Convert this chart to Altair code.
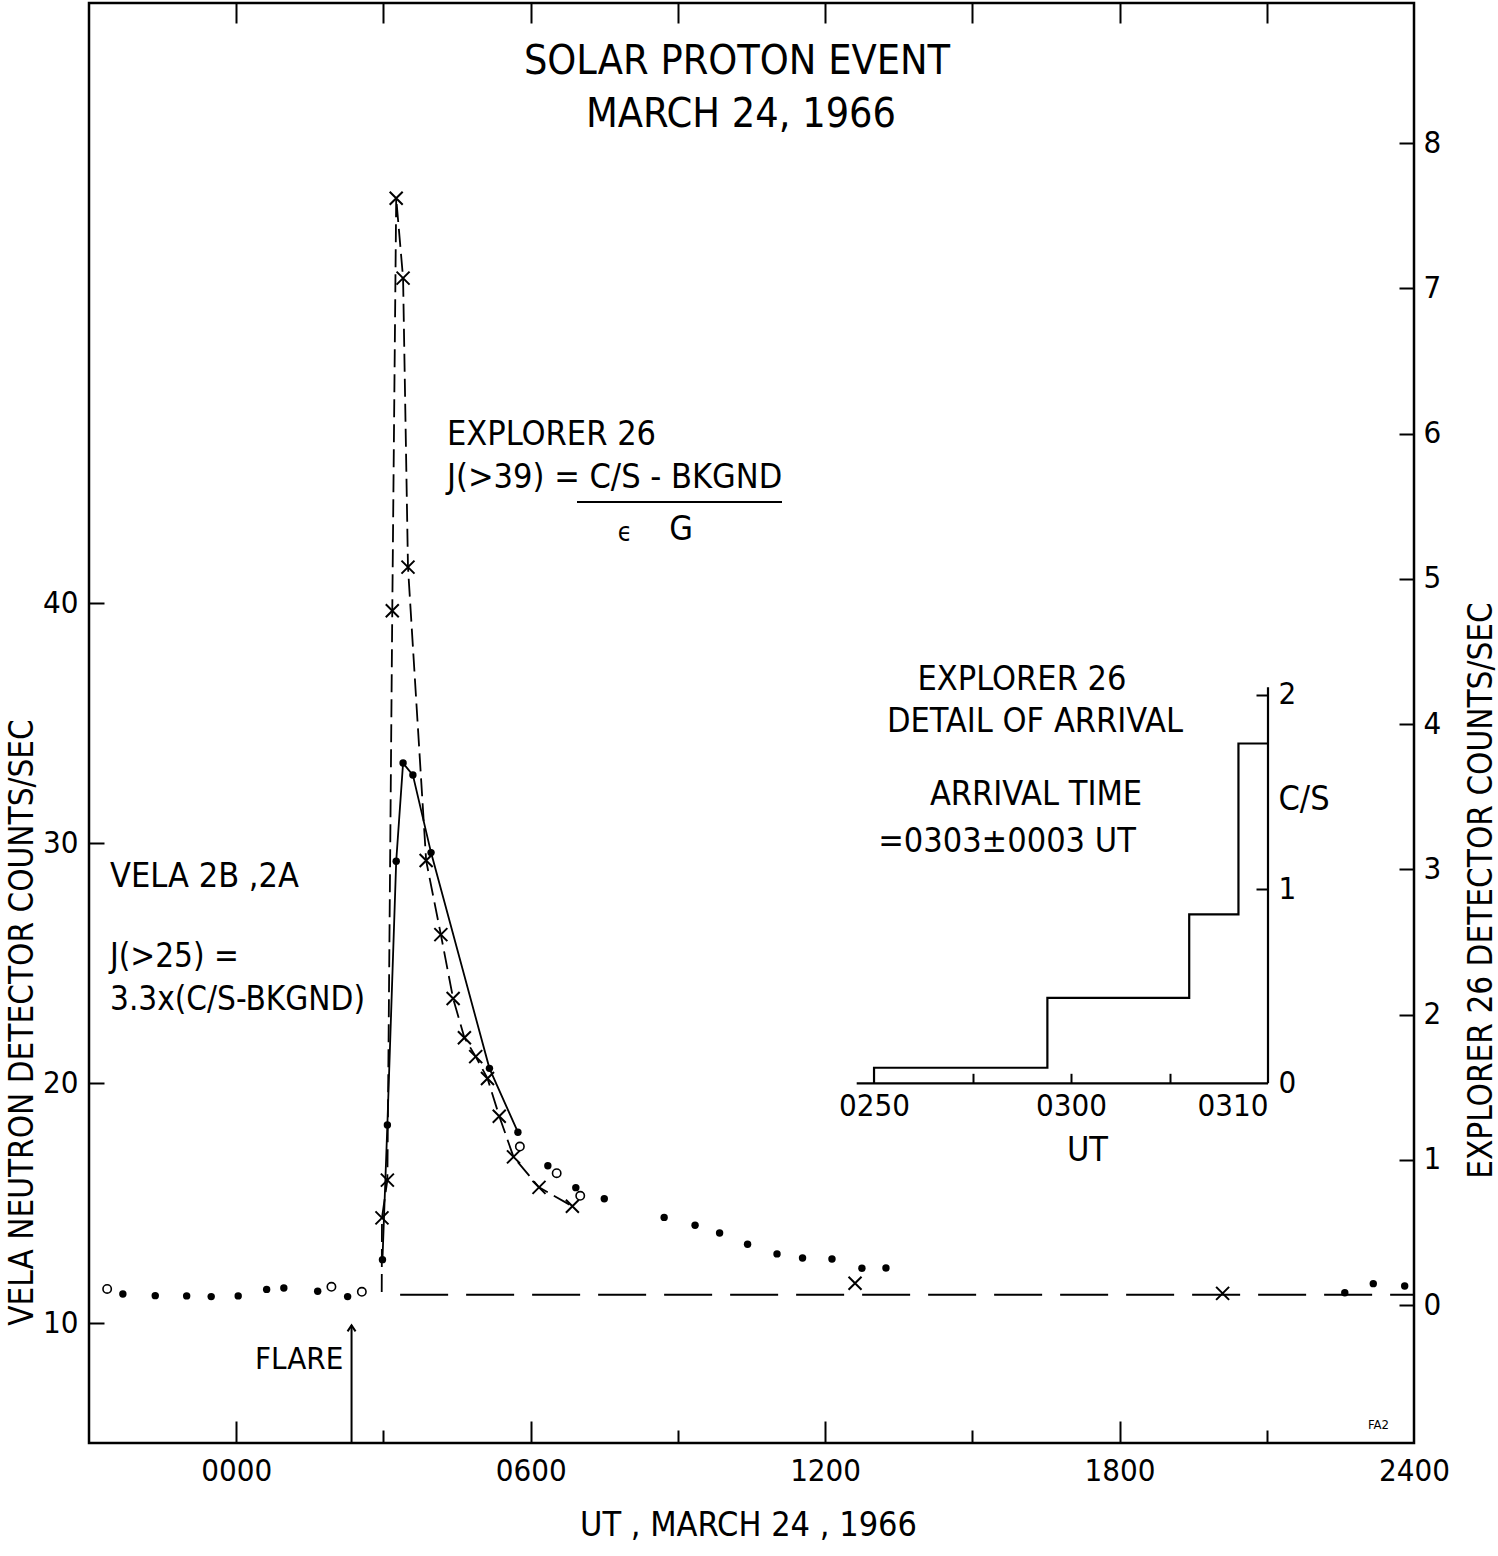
import altair as alt
import pandas as pd

FONT = "Liberation Sans Narrow, DejaVu Sans Condensed, Liberation Sans, sans-serif"

# ---------------- data ----------------
# Vela 2B/2A neutron detector, filled dots (hour UT, counts/sec)
vela_filled_h = [-2.31, -1.65, -1.01, -0.51, 0.04, 0.62, 0.97, 1.66, 2.27, 2.98, 3.08, 3.26, 3.40,
                 3.60, 3.97, 5.16, 5.74, 6.35, 6.92, 7.50, 8.72, 9.35, 9.85, 10.42, 11.02, 11.54,
                 12.14, 12.75, 13.24, 22.59, 23.17, 23.81]
vela_filled_v = [11.21, 11.14, 11.13, 11.10, 11.13, 11.40, 11.46, 11.32, 11.10, 12.64, 18.25, 29.24, 33.33,
                 32.83, 29.60, 20.61, 17.95, 16.55, 15.64, 15.18, 14.40, 14.07, 13.75, 13.28, 12.88, 12.71,
                 12.67, 12.28, 12.29, 11.26, 11.64, 11.54]
# Vela open circles
vela_open_h = [-2.63, 1.94, 2.56, 5.78, 6.53, 7.01]
vela_open_v = [11.42, 11.51, 11.30, 17.35, 16.24, 15.30]
# Vela connecting curve
vela_line_h = [2.98, 3.08, 3.26, 3.40, 3.60, 3.97, 5.16, 5.74]
vela_line_v = [12.64, 18.25, 29.24, 33.33, 32.83, 29.60, 20.61, 17.95]

# Explorer 26 detector (hour UT, counts/sec) crosses
exp_h = [2.97, 3.08, 3.18, 3.26, 3.40, 3.50, 3.87, 4.17, 4.42, 4.65, 4.88, 5.12, 5.36, 5.65, 6.17, 6.85,
         12.61, 20.10]
exp_r = [0.60, 0.86, 4.78, 7.62, 7.07, 5.08, 3.06, 2.55, 2.11, 1.84, 1.71, 1.56, 1.30, 1.02, 0.81, 0.68,
         0.15, 0.08]
# Explorer dashed curve
exp_curve_h = [2.965, 2.97, 3.08, 3.18, 3.26, 3.40, 3.50, 3.87, 4.17, 4.42, 4.65, 4.88, 5.12, 5.36,
               5.65, 6.17, 6.85]
exp_curve_r = [0.09, 0.60, 0.86, 4.78, 7.62, 7.07, 5.08, 3.06, 2.55, 2.11, 1.84, 1.71, 1.56, 1.30,
               1.02, 0.81, 0.68]
# Explorer background level
bkg_h = [3.34, 24.0]
bkg_r = [0.07, 0.07]
# Flare time
flare_h = [2.35]
flare_from = [5.0]
flare_to = [9.9]

# Inset: Explorer 26 detail of arrival (minutes after 0250 UT, C/S)
inset_min = [0.0, 0.0, 8.8, 16.0, 18.5, 20.0]
inset_cs = [0.0, 0.08, 0.44, 0.87, 1.75, 1.75]

# tick values and labels
x_major = [0, 6, 12, 18, 24]
x_major_labels = ["0000", "0600", "1200", "1800", "2400"]
x_top_ticks = [0, 3, 6, 9, 12, 15, 18, 21]
x_bottom_major = [0, 6, 12, 18]
x_bottom_minor = [3, 9, 15, 21]
vela_ticks = [10, 20, 30, 40]
exp_ticks = [0, 1, 2, 3, 4, 5, 6, 7, 8]
inset_label_vals = [0, 10, 20]
inset_labels = ["0250", "0300", "0310"]
inset_minor = [5, 10, 15]
inset_y_ticks = [1, 2]
inset_y_labels = [0, 1, 2]

# ---------------- layout ----------------
W, H = 1325, 1440
xs = alt.Scale(domain=[-3, 24], nice=False, zero=False)
vs = alt.Scale(domain=[5, 65], nice=False, zero=False)
es = alt.Scale(domain=[-0.95, 8.964], nice=False, zero=False)
INSET_Y0 = 1080.3
INSET_X1 = 1179
ixs = alt.Scale(domain=[-0.88, 20], range=[767.7, INSET_X1], nice=False, zero=False)
iys = alt.Scale(domain=[0, 2.04], range=[INSET_Y0, 684.2], nice=False, zero=False)


def label_expr(vals, labs):
    expr = "''"
    for v, l in reversed(list(zip(vals, labs))):
        expr = f"datum.value == {v} ? '{l}' : ({expr})"
    return expr


df_vf = pd.DataFrame({"h": vela_filled_h, "v": vela_filled_v})
df_vo = pd.DataFrame({"h": vela_open_h, "v": vela_open_v})
df_vl = pd.DataFrame({"h": vela_line_h, "v": vela_line_v, "i": range(len(vela_line_h))})
df_ex = pd.DataFrame({"h": exp_h, "r": exp_r})
df_ec = pd.DataFrame({"h": exp_curve_h, "r": exp_curve_r, "i": range(len(exp_curve_h))})
df_bk = pd.DataFrame({"h": bkg_h, "r": bkg_r})
df_fl = pd.DataFrame({"h": flare_h, "a": flare_from, "b": flare_to})
df_in = pd.DataFrame({"m": inset_min, "c": inset_cs, "i": range(len(inset_min))})
df_frame = pd.DataFrame({"m": [-0.88, 20], "m2": [20, 20], "c": [0, 0], "c2": [0, 2.04]})

NOAX = None
TICKLAB = 31

# Vela filled dots: bottom labels + left labels
vela_dots = alt.Chart(df_vf).mark_circle(size=55, color="black", opacity=1).encode(
    x=alt.X("h:Q", scale=xs, axis=alt.Axis(
        orient="bottom", values=x_major, labelExpr=label_expr(x_major, x_major_labels),
        ticks=False, domain=False, labelFontSize=TICKLAB, labelPadding=13, labelFlush=False,
        labelOverlap=False,
        title="UT , MARCH 24 , 1966", titleFontSize=34, titleX=659, titleY=82,
        titleAlign="center", titleBaseline="middle")),
    y=alt.Y("v:Q", scale=vs, axis=alt.Axis(
        orient="left", values=vela_ticks, ticks=False, domain=False, labelFontSize=TICKLAB,
        labelPadding=11, labelOverlap=False,
        title="VELA NEUTRON DETECTOR COUNTS/SEC", titleFontSize=33,
        titleAngle=270, titleX=-67, titleY=1019, titleAlign="center", titleBaseline="middle")),
)

# Vela open circles: top ticks + left inner ticks
vela_open = alt.Chart(df_vo).mark_point(shape="circle", filled=False, stroke="black",
                                        strokeWidth=1.6, size=70, opacity=1).encode(
    x=alt.X("h:Q", scale=xs, axis=alt.Axis(
        orient="bottom", offset=-H, values=x_top_ticks, tickSize=20, labels=False,
        domain=False, title=None)),
    y=alt.Y("v:Q", scale=vs, axis=alt.Axis(
        orient="right", offset=-W, values=vela_ticks, tickSize=15, labels=False,
        domain=False, title=None)),
)

# Vela curve: bottom major ticks
vela_line = alt.Chart(df_vl).mark_line(color="black", strokeWidth=1.8).encode(
    x=alt.X("h:Q", scale=xs, axis=alt.Axis(
        orient="top", offset=-H, values=x_bottom_major, tickSize=22, labels=False,
        domain=False, title=None)),
    y=alt.Y("v:Q", scale=vs, axis=NOAX),
    order="i:Q",
)

XPATH = "M-1,-1L1,1M-1,1L1,-1"
exp_x = alt.Chart(df_ex).mark_point(shape=XPATH, filled=False, stroke="black", strokeWidth=2,
                                    size=169, opacity=1).encode(
    x=alt.X("h:Q", scale=xs, axis=alt.Axis(
        orient="top", offset=-H, values=x_bottom_minor, tickSize=13, labels=False,
        domain=False, title=None)),
    y=alt.Y("r:Q", scale=es, axis=alt.Axis(
        orient="right", values=exp_ticks, ticks=False, domain=False, labelFontSize=TICKLAB,
        labelPadding=9, format="d", labelOverlap=False,
        title="EXPLORER 26 DETECTOR COUNTS/SEC", titleFontSize=33,
        titleAngle=270, titleX=67, titleY=887, titleAlign="center", titleBaseline="middle")),
)

exp_curve = alt.Chart(df_ec).mark_line(color="black", strokeWidth=1.8, strokeDash=[18, 7]).encode(
    x=alt.X("h:Q", scale=xs, axis=NOAX),
    y=alt.Y("r:Q", scale=es, axis=alt.Axis(
        orient="left", offset=-W, values=exp_ticks, tickSize=15, labels=False,
        domain=False, title=None)),
    order="i:Q",
)

bkg_line = alt.Chart(df_bk).mark_line(color="black", strokeWidth=2, strokeDash=[48, 18]).encode(
    x=alt.X("h:Q", scale=xs, axis=NOAX),
    y=alt.Y("r:Q", scale=es, axis=NOAX),
)

flare_rule = alt.Chart(df_fl).mark_rule(color="black", strokeWidth=2).encode(
    x=alt.X("h:Q", scale=xs, axis=NOAX),
    y=alt.Y("a:Q", scale=vs, axis=NOAX),
    y2="b:Q",
)
flare_head = alt.Chart(df_fl).mark_point(shape="M-1,1.5L0,0L1,1.5", filled=False, stroke="black",
                                         strokeWidth=2, size=64, opacity=1).encode(
    x=alt.X("h:Q", scale=xs, axis=NOAX),
    y=alt.Y("b:Q", scale=vs, axis=NOAX),
)

# Inset
inset_step = alt.Chart(df_in).mark_line(color="black", strokeWidth=2.2, interpolate="step-after").encode(
    x=alt.X("m:Q", scale=ixs, axis=alt.Axis(
        orient="top", offset=-INSET_Y0, values=inset_minor, tickSize=10, labels=False,
        domain=False, title=None)),
    y=alt.Y("c:Q", scale=iys, axis=alt.Axis(
        orient="left", offset=-INSET_X1, values=inset_y_ticks, tickSize=12, labels=False,
        domain=False, title=None)),
    order="i:Q",
)

inset_frame = alt.Chart(df_frame).mark_rule(color="black", strokeWidth=2.2).encode(
    x=alt.X("m:Q", scale=ixs, axis=alt.Axis(
        orient="bottom", offset=INSET_Y0 - H, values=inset_label_vals,
        labelExpr=label_expr(inset_label_vals, inset_labels), ticks=False, domain=False,
        labelFontSize=TICKLAB, labelPadding=8, labelFlush=True, labelOverlap=False,
        title="UT", titleFontSize=34,
        titleX=998, titleY=67, titleAlign="center", titleBaseline="middle")),
    x2="m2:Q",
    y=alt.Y("c:Q", scale=iys, axis=alt.Axis(
        orient="right", offset=INSET_X1 - W, values=inset_y_labels, ticks=False, domain=False,
        labelExpr="format(datum.value, 'd')", labelOverlap=False, labelBound=False,
        labelFontSize=TICKLAB, labelPadding=10, title=None)),
    y2="c2:Q",
)


def txt(s, x, y, size=34, align="left", baseline="middle"):
    return alt.Chart(pd.DataFrame({"t": [s]})).mark_text(
        font=FONT, fontSize=size, align=align, baseline=baseline, color="black"
    ).encode(text="t:N", x=alt.value(x), y=alt.value(y))


texts = [
    txt("SOLAR PROTON EVENT", 648, 59, 41, "center"),
    txt("MARCH 24, 1966", 652, 112, 41, "center"),
    txt("EXPLORER 26", 358, 432, 34),
    txt("J(>39) = C/S - BKGND", 358, 475, 34),
    txt("ϵ", 536, 530, 26, "center"),
    txt("G", 592, 527, 34, "center"),
    txt("VELA 2B ,2A", 21, 874, 34),
    txt("J(>25) =", 21, 954, 33),
    txt("3.3x(C/S-BKGND)", 21, 997, 33),
    txt("FLARE", 166, 1357, 31),
    txt("FA2", 1279, 1422, 13),
    txt("EXPLORER 26", 933, 677, 34, "center"),
    txt("DETAIL OF ARRIVAL", 946, 719, 34, "center"),
    txt("ARRIVAL TIME", 947, 792, 34, "center"),
    txt("=0303±0003 UT", 918, 839, 34, "center"),
    txt("C/S", 1215, 797, 34, "center"),
]

fraction_bar = alt.Chart(pd.DataFrame({"t": [0]})).mark_rule(color="black", strokeWidth=2).encode(
    x=alt.value(488), x2=alt.value(693), y=alt.value(499))

chart = alt.layer(
    vela_dots, vela_open, vela_line, exp_x, exp_curve, bkg_line, flare_rule, flare_head,
    inset_step, inset_frame, fraction_bar, *texts
).resolve_scale(
    x="independent", y="independent"
).properties(
    width=W, height=H,
    padding={"left": 89, "top": 3, "right": 84, "bottom": 113},
    autosize=alt.AutoSizeParams(type="none"),
    background="white",
).configure_axis(
    labelFont=FONT, titleFont=FONT, labelColor="black", titleColor="black",
    tickColor="black", tickWidth=2, domainColor="black", grid=False,
    titleFontWeight="normal", labelFontWeight="normal",
).configure_view(
    stroke="black", strokeWidth=2.5,
)

chart.save("out.html", embed_options={"renderer": "svg", "actions": False})
